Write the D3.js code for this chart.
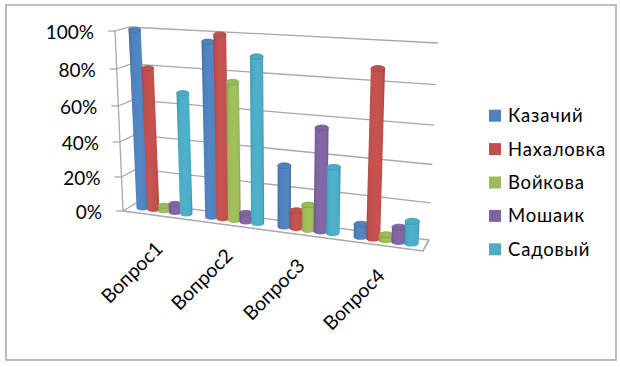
<!DOCTYPE html>
<html>
<head>
<meta charset="utf-8">
<style>
html, body { margin: 0; padding: 0; background: #fff; }
svg { display: block; font-family: Lato, "Open Sans", sans-serif; }
</style>
</head>
<body>
<svg width="620" height="367"></svg>
<script src="https://cdnjs.cloudflare.com/ajax/libs/d3/7.8.5/d3.min.js"></script>
<script>
// data (percent)
var categories = ["Вопрос1", "Вопрос2", "Вопрос3", "Вопрос4"];
var seriesNames = ["Казачий", "Нахаловка", "Войкова", "Мошаик", "Садовый"];
var kazachiy = [100, 96, 34, 7];
var nakhalovka = [80, 100, 10, 88];
var voikova = [3, 76, 14, 3];
var moshaik = [5, 5, 56, 8];
var sadovy = [68, 90, 36, 12];
var seriesValues = [kazachiy, nakhalovka, voikova, moshaik, sadovy];
var seriesColors = ["#4f81bd", "#c0504d", "#9bbb59", "#8064a2", "#4bacc6"];
var yTicks = [0, 20, 40, 60, 80, 100];

var svg = d3.select("svg");

// box corners of the 3d frame: f = front, b = back, l/r, 0 = floor, 1 = top
var fl0 = [123, 211], fl1 = [115, 31];
var bl0 = [138, 202], bl1 = [129, 27];
var br0 = [429, 240], br1 = [438, 43];
var fr0 = [423, 251], fr1 = [431, 51];

function mix(a, b, t) {
	return [d3.interpolateNumber(a[0], b[0])(t), d3.interpolateNumber(a[1], b[1])(t)];
}

// u along the categories, v into the depth, h up the wall (all 0..1)
function project(u, v, h) {
	var front = mix(mix(fl0, fr0, u), mix(fl1, fr1, u), h);
	var back = mix(mix(bl0, br0, u), mix(bl1, br1, u), h);
	return mix(front, back, v);
}

var x0 = d3.scaleBand().domain(categories).range([0, 1]).paddingInner(0.2).paddingOuter(0.1);
var x1 = d3.scaleBand().domain(seriesNames).range([0, x0.bandwidth()]);
// slight perspective: the near end of the floor is stretched
var perspective = d3.scalePow().exponent(2).domain([4.5, 5.5]).range([0, 1]);
var uOf = function(t) { return perspective(4.5 + t); };
var lift = d3.scalePow().exponent(2).domain([670, 770]).range([0, 1]);
var hOf = function(v) { return lift(670 + v); };

var line = d3.line();
var gridColor = "#a8a8a8";

var defs = svg.append("defs");
seriesColors.forEach(function(c, i) {
	var dark = d3.color(c).darker(0.5).formatHex();
	var light = d3.color(c).brighter(0.1).formatHex();
	var g = defs.append("linearGradient").attr("id", "cyl" + i);
	g.append("stop").attr("offset", "0%").attr("stop-color", dark);
	g.append("stop").attr("offset", "18%").attr("stop-color", c);
	g.append("stop").attr("offset", "55%").attr("stop-color", light);
	g.append("stop").attr("offset", "85%").attr("stop-color", c);
	g.append("stop").attr("offset", "100%").attr("stop-color", dark);
});

// outer frame
svg.append("rect")
	.attr("x", 6).attr("y", 5).attr("width", 610).attr("height", 355)
	.attr("fill", "#fff").attr("stroke", "#bdbdbd").attr("stroke-width", 2);

// walls and grid
var grid = svg.append("g").attr("fill", "none").attr("stroke", gridColor).attr("stroke-width", 1.3);
yTicks.forEach(function(t) {
	var h = hOf(t);
	grid.append("path").attr("d", line([project(0, 0, h), project(0, 1, h), project(1, 1, h)]));
	var p = project(0, 0, h);
	grid.append("path").attr("d", line([[p[0] - 7, p[1]], p]));
});
grid.append("path").attr("d", line([project(0, 0, 0), project(0, 0, 1)]));
grid.append("path").attr("d", line([project(0, 1, 0), project(0, 1, 1)]));
grid.append("path").attr("stroke-width", 1.6)
	.attr("d", line([project(0, 0, 0), project(1, 0, 0), project(1, 1, 0)]));

// y labels
svg.append("g").selectAll("text").data(yTicks).join("text")
	.attr("x", function(d) { return project(0, 0, hOf(d))[0] - 21; })
	.attr("y", function(d) { return project(0, 0, hOf(d))[1] + 1; })
	.attr("dy", "0.35em")
	.attr("text-anchor", "end")
	.attr("font-size", 19)
	.attr("fill", "#000")
	.text(function(d) { return d + "%"; });

// cylinders
categories.forEach(function(cat, ci) {
	seriesNames.forEach(function(name, si) {
		var t = x0(cat) + x1(name) + x1.bandwidth() / 2;
		var value = seriesValues[si][ci];
		var a = project(uOf(t), 0.5, 0);
		var b = project(uOf(t), 0.5, hOf(value));
		var left = project(uOf(t - x1.bandwidth() / 2), 0.5, 0);
		var right = project(uOf(t + x1.bandwidth() / 2), 0.5, 0);
		var rx = (right[0] - left[0]) / 2 * 1.12;
		var ry = rx * 0.42;
		var d = "M" + (a[0] - rx) + "," + a[1] +
			"A" + rx + "," + ry + " 0 0 0 " + (a[0] + rx) + "," + a[1] +
			"L" + (b[0] + rx) + "," + b[1] +
			"L" + (b[0] - rx) + "," + b[1] + "Z";
		var g = svg.append("g");
		g.append("path").attr("d", d).attr("fill", "url(#cyl" + si + ")");
		g.append("ellipse")
			.attr("cx", b[0]).attr("cy", b[1])
			.attr("rx", rx).attr("ry", ry)
			.attr("fill", seriesColors[si])
			.attr("stroke", d3.color(seriesColors[si]).darker(0.4).formatHex())
			.attr("stroke-width", 0.8);
	});
});

// category labels, rotated
var labelAnchorX = [164, 234, 306, 386];
var labelAnchorY = [250, 257, 267, 277];
svg.append("g").selectAll("text").data(categories).join("text")
	.attr("transform", function(d, i) {
		return "translate(" + labelAnchorX[i] + "," + labelAnchorY[i] + ") rotate(-45)";
	})
	.attr("text-anchor", "end")
	.attr("font-size", 19.5)
	.attr("fill", "#000")
	.text(function(d) { return d; });

// legend
var legendY = d3.scalePoint().domain(seriesNames).range([115.7, 249.3]);
var legend = svg.append("g").selectAll("g").data(seriesNames).join("g")
	.attr("transform", function(d) { return "translate(489," + legendY(d) + ")"; });
legend.append("rect")
	.attr("x", 0).attr("y", -6).attr("width", 12).attr("height", 12)
	.attr("fill", function(d, i) { return seriesColors[i]; });
legend.append("text")
	.attr("x", 19).attr("dy", "0.35em")
	.attr("font-size", 18.5)
	.attr("letter-spacing", "0.8px")
	.attr("fill", "#000")
	.text(function(d) { return d; });
</script>
</body>
</html>
